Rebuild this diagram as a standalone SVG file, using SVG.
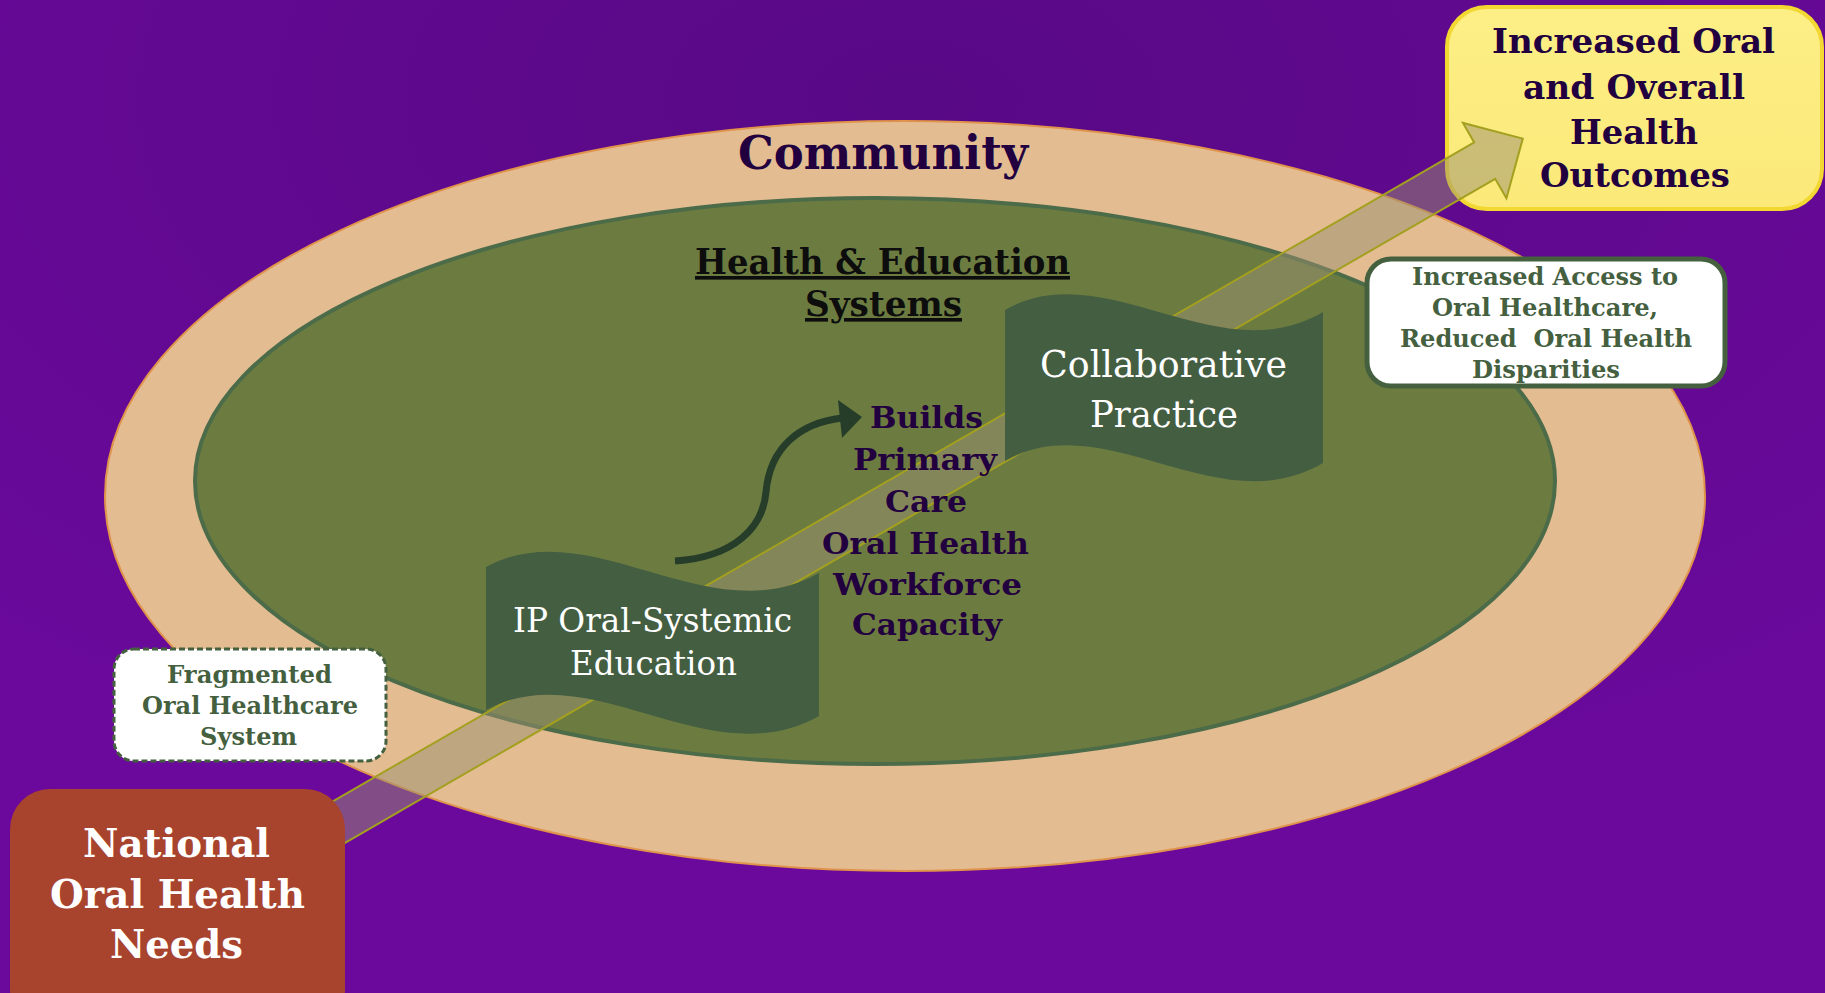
<svg xmlns="http://www.w3.org/2000/svg" width="1825" height="993" viewBox="0 0 1825 993">
<defs>
<radialGradient id="bg" cx="50%" cy="10%" r="75%">
<stop offset="0" stop-color="#580985"/>
<stop offset="1" stop-color="#6a099c"/>
</radialGradient>
<linearGradient id="yel" x1="0" y1="0" x2="0" y2="1">
<stop offset="0" stop-color="#fdef86"/>
<stop offset="1" stop-color="#fbe979"/>
</linearGradient>
<style>
.serif{font-family:"DejaVu Serif","Liberation Serif",serif}
.b{font-weight:bold}
.purple{fill:#22003f}
.green{fill:#44603f}
.white{fill:#ffffff}
.banner{fill:#445e42}
.box{fill:#ffffff;stroke:#44603f}
</style>
</defs>
<rect x="0" y="0" width="1825" height="993" fill="url(#bg)"/>

<g id="community">
<ellipse cx="905" cy="496" rx="800" ry="375" fill="#e3bc92" stroke="#e0934a" stroke-width="2"/>
<text class="serif b purple" x="738" y="169" font-size="46" textLength="290" lengthAdjust="spacingAndGlyphs">Community</text>
</g>

<g id="systems">
<ellipse cx="875" cy="481" rx="680" ry="283" fill="#6c7c40" stroke="#4c6b48" stroke-width="4"/>
<text class="serif b" fill="#0d0d0d" font-size="36" text-decoration="underline" x="695" y="274" textLength="375" lengthAdjust="spacingAndGlyphs">Health &amp; Education</text>
<text class="serif b" fill="#0d0d0d" font-size="36" text-decoration="underline" x="805" y="316" textLength="157" lengthAdjust="spacingAndGlyphs">Systems</text>
</g>

<g id="outcomes">
<rect x="1447" y="7" width="375" height="202" rx="40" fill="url(#yel)" stroke="#f3d832" stroke-width="4"/>
<text class="serif b purple" font-size="34"><tspan x="1492" y="53" textLength="283" lengthAdjust="spacingAndGlyphs">Increased Oral</tspan><tspan x="1523" y="99" textLength="222" lengthAdjust="spacingAndGlyphs">and Overall</tspan><tspan x="1570" y="144" textLength="128" lengthAdjust="spacingAndGlyphs">Health</tspan><tspan x="1540" y="187" textLength="190" lengthAdjust="spacingAndGlyphs">Outcomes</tspan></text>
</g>

<g id="connectors">
<path transform="translate(345,818.6) rotate(-30)" d="M -30,-21 L 1316,-21 L 1316,-43.5 L 1360,0 L 1316,43.5 L 1316,21 L -30,21 Z" fill="#9a9070" fill-opacity="0.5" stroke="#a3a020" stroke-width="2" stroke-linejoin="miter"/>
<path d="M 675,561 C 735,557 763,527 766,492 C 770,447 800,423 842,418" fill="none" stroke="#263d2a" stroke-width="7"/>
<polygon points="838,400 862,417 842,438" fill="#263d2a"/>
</g>

<g id="ip-education">
<path class="banner" d="M 486,567 C 590,510 710,635 819,573 L 819,716 C 710,778 590,653 486,710 Z"/>
<text class="serif white" font-size="34"><tspan x="513" y="632" textLength="279" lengthAdjust="spacingAndGlyphs">IP Oral-Systemic</tspan><tspan x="570" y="675" textLength="167" lengthAdjust="spacingAndGlyphs">Education</tspan></text>
</g>

<g id="collaborative-practice">
<path class="banner" d="M 1005,310 C 1104,253 1218,374 1323,312 L 1323,463 C 1218,525 1104,404 1005,461 Z"/>
<text class="serif white" font-size="38"><tspan x="1040" y="377" textLength="247" lengthAdjust="spacingAndGlyphs">Collaborative</tspan><tspan x="1090" y="427" textLength="148" lengthAdjust="spacingAndGlyphs">Practice</tspan></text>
</g>

<g id="builds-capacity">
<text class="serif b purple" font-size="29"><tspan x="870" y="428" textLength="113" lengthAdjust="spacingAndGlyphs">Builds</tspan><tspan x="853" y="470" textLength="144" lengthAdjust="spacingAndGlyphs">Primary</tspan><tspan x="885" y="512" textLength="82" lengthAdjust="spacingAndGlyphs">Care</tspan><tspan x="822" y="554" textLength="207" lengthAdjust="spacingAndGlyphs">Oral Health</tspan><tspan x="833" y="595" textLength="189" lengthAdjust="spacingAndGlyphs">Workforce</tspan><tspan x="852" y="635" textLength="150" lengthAdjust="spacingAndGlyphs">Capacity</tspan></text>
</g>

<g id="access">
<rect class="box" x="1367" y="259" width="358" height="127" rx="24" stroke-width="5"/>
<text class="serif b green" font-size="25"><tspan x="1412" y="285" textLength="266" lengthAdjust="spacingAndGlyphs">Increased Access to</tspan><tspan x="1432" y="316" textLength="226" lengthAdjust="spacingAndGlyphs">Oral Healthcare,</tspan><tspan x="1472" y="378" textLength="148" lengthAdjust="spacingAndGlyphs">Disparities</tspan></text>
<text class="serif b green" font-size="25" xml:space="preserve" x="1400" y="347" textLength="292" lengthAdjust="spacingAndGlyphs">Reduced  Oral Health</text>
</g>

<g id="fragmented">
<rect class="box" x="114" y="649" width="272" height="112" rx="20" stroke-width="3" stroke-dasharray="6 3"/>
<text class="serif b green" font-size="25"><tspan x="167" y="683" textLength="165" lengthAdjust="spacingAndGlyphs">Fragmented</tspan><tspan x="142" y="714" textLength="216" lengthAdjust="spacingAndGlyphs">Oral Healthcare</tspan><tspan x="200" y="745" textLength="97" lengthAdjust="spacingAndGlyphs">System</tspan></text>
</g>

<g id="national-needs">
<rect x="10" y="789" width="335" height="240" rx="40" fill="#a8432e"/>
<text class="serif b white" font-size="40"><tspan x="83" y="857" textLength="187" lengthAdjust="spacingAndGlyphs">National</tspan><tspan x="50" y="908" textLength="255" lengthAdjust="spacingAndGlyphs">Oral Health</tspan><tspan x="110" y="958" textLength="133" lengthAdjust="spacingAndGlyphs">Needs</tspan></text>
</g>
</svg>
